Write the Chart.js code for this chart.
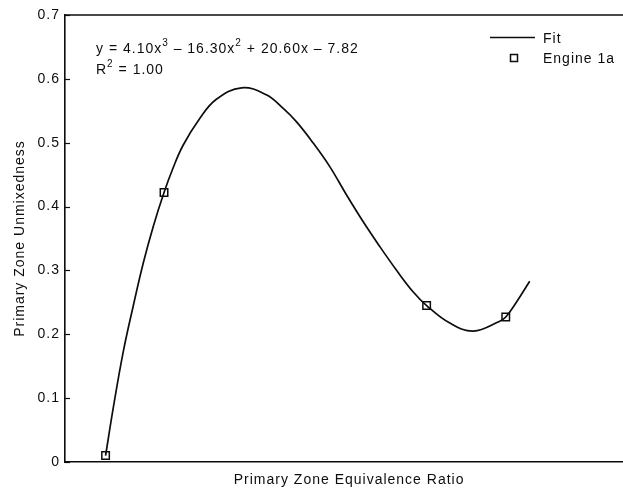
<!DOCTYPE html>
<html>
<head>
<meta charset="utf-8">
<script src="https://cdn.jsdelivr.net/npm/chart.js@4.4.0/dist/chart.umd.min.js"></script>
<style>
  html, body { margin: 0; padding: 0; background: #fff; overflow: hidden; }
</style>
</head>
<body>
<!-- canvas is a bit wider than the window: the original figure is cropped on the right -->
<canvas id="chart" width="640" height="489"></canvas>
<script>
// ---------------- Data ----------------
// fitted curve, sampled along the drawn line
const fitX = [0.700, 0.719, 0.743, 0.768, 0.793, 0.818, 0.844, 0.866, 0.891, 0.932, 0.973,
              1.035, 1.096, 1.137, 1.170, 1.211, 1.252, 1.293, 1.334, 1.375, 1.416, 1.457,
              1.491, 1.547, 1.606, 1.670, 1.686, 1.711, 1.745];
const fitY = [0.010, 0.085, 0.171, 0.244, 0.312, 0.370, 0.422, 0.460, 0.496, 0.538, 0.568,
              0.586, 0.575, 0.554, 0.533, 0.500, 0.463, 0.419, 0.377, 0.338, 0.301, 0.267,
              0.245, 0.218, 0.205, 0.220, 0.227, 0.249, 0.283];

// measured points
const engineX = [0.70, 0.844, 1.491, 1.686];
const engineY = [0.010, 0.422, 0.245, 0.227];

const yTicks = [0, 0.1, 0.2, 0.3, 0.4, 0.5, 0.6, 0.7];
const xRange = [0.6, 2.0];

const FONT = '"Liberation Sans", Arial, Helvetica, sans-serif';
const INK = "#0d0d0d";

// ---------------- Helpers ----------------
function toPoints(xs, ys) {
  return xs.map((x, i) => ({ x, y: ys[i] }));
}

// text with superscripts: parts = [[text, isSup], ...]
function drawRich(ctx, parts, x, y) {
  parts.forEach(([t, sup]) => {
    ctx.font = sup ? `10px ${FONT}` : `14px ${FONT}`;
    ctx.fillText(t, x, sup ? y - 7 : y);
    x += ctx.measureText(t).width;
  });
}

// the scanned figure has slightly wide lettering
const spacing = {
  id: "spacing",
  beforeUpdate(chart) { chart.ctx.letterSpacing = "1px"; },
  beforeDraw(chart) { chart.ctx.letterSpacing = "1px"; }
};

// ---------------- Extras: frame top, inner ticks, equation, legend ----------------
const extras = {
  id: "extras",
  afterDraw(chart) {
    const { ctx, chartArea: a, scales } = chart;
    ctx.save();
    ctx.strokeStyle = INK;
    ctx.fillStyle = INK;

    // top frame line
    ctx.lineWidth = 1.6;
    ctx.beginPath();
    ctx.moveTo(a.left, a.top);
    ctx.lineTo(a.right, a.top);
    ctx.stroke();

    // inward y ticks
    ctx.lineWidth = 1.2;
    yTicks.forEach(v => {
      const py = Math.round(scales.y.getPixelForValue(v)) + 0.5;
      ctx.beginPath();
      ctx.moveTo(a.left, py);
      ctx.lineTo(a.left + 5, py);
      ctx.stroke();
    });

    // equation
    ctx.textAlign = "left";
    ctx.textBaseline = "alphabetic";
    drawRich(ctx, [["y = 4.10x", 0], ["3", 1], [" \u2013 16.30x", 0], ["2", 1],
                   [" + 20.60x \u2013 7.82", 0]], 96, 53);
    drawRich(ctx, [["R", 0], ["2", 1], [" = 1.00", 0]], 96, 74);

    // legend
    ctx.font = `14px ${FONT}`;
    ctx.lineWidth = 1.5;
    ctx.beginPath();
    ctx.moveTo(490, 37.5);
    ctx.lineTo(535, 37.5);
    ctx.stroke();
    ctx.fillText("Fit", 543, 43);
    ctx.strokeRect(510.5, 54.5, 7, 7);
    ctx.fillText("Engine 1a", 543, 63);

    ctx.restore();
  }
};

// ---------------- Chart ----------------
new Chart(document.getElementById("chart"), {
  type: "scatter",
  data: {
    datasets: [
      {
        label: "Fit",
        data: toPoints(fitX, fitY),
        showLine: true,
        borderColor: INK,
        borderWidth: 1.7,
        pointRadius: 0,
        tension: 0.4,
        order: 2
      },
      {
        label: "Engine 1a",
        data: toPoints(engineX, engineY),
        showLine: false,
        pointStyle: "rect",
        pointRadius: 5.3,
        borderColor: INK,
        borderWidth: 1.5,
        backgroundColor: "rgba(0,0,0,0)",
        order: 1
      }
    ]
  },
  options: {
    responsive: false,
    animation: false,
    layout: { padding: { top: 15, right: 0, left: 0, bottom: 0 } },
    plugins: { legend: { display: false }, tooltip: { enabled: false } },
    scales: {
      x: {
        type: "linear",
        min: xRange[0],
        max: xRange[1],
        grid: { display: false, drawTicks: false },
        border: { display: true, color: INK, width: 1.6 },
        ticks: { display: false },
        title: {
          display: true,
          text: "Primary Zone Equivalence Ratio",
          color: INK,
          font: { family: FONT, size: 14 },
          padding: { top: 4, bottom: 0 }
        },
        afterFit: s => { s.height = 27; }
      },
      y: {
        type: "linear",
        min: 0,
        max: 0.7,
        afterBuildTicks: s => { s.ticks = yTicks.map(v => ({ value: v })); },
        grid: { display: false, drawTicks: false },
        border: { display: true, color: INK, width: 1.6 },
        ticks: {
          color: INK,
          padding: 5,
          font: { family: FONT, size: 14 },
          callback: v => (v === 0 ? "0" : v.toFixed(1))
        },
        title: {
          display: true,
          text: "Primary Zone Unmixedness",
          color: INK,
          font: { family: FONT, size: 14 },
          padding: { top: 12, bottom: 0 }
        },
        afterFit: s => { s.width = 65; }
      }
    }
  },
  plugins: [spacing, extras]
});
</script>
</body>
</html>
